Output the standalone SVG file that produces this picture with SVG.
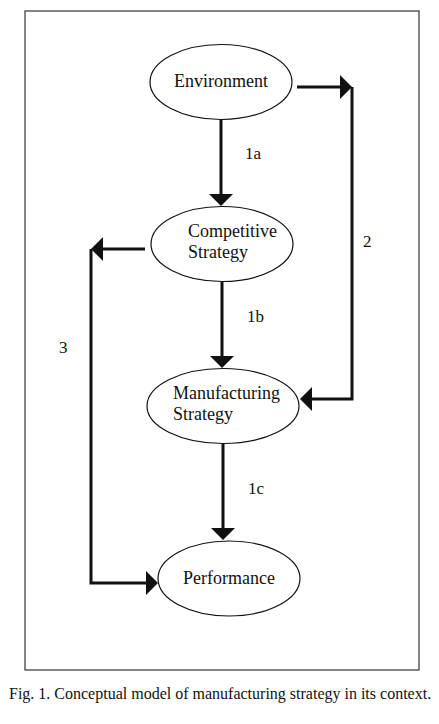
<svg xmlns="http://www.w3.org/2000/svg" width="439" height="724" viewBox="0 0 439 724">
<style>
.node ellipse{fill:#fff;stroke:#111;stroke-width:1.2}
.lbl{font-family:"Liberation Serif","Times New Roman",serif;font-size:18px;fill:#111}
.num{font-family:"Liberation Serif","Times New Roman",serif;font-size:17px;fill:#111}
.conn path{fill:none;stroke:#111;stroke-width:3}
.cap{font-family:"Liberation Serif","Times New Roman",serif;font-size:16px;fill:#111}
</style>
<defs>
<marker id="ah" viewBox="0 0 12 24" markerWidth="12" markerHeight="24" markerUnits="userSpaceOnUse" refX="2" refY="12" orient="auto">
<path d="M0,0 L12,12 L0,24 z" fill="#111"/>
</marker>
</defs>
<rect x="25" y="11" width="394" height="659" fill="none" stroke="#333" stroke-width="1.2"/>
<g class="conn" id="connectors">
<path d="M221,119 V196" marker-end="url(#ah)"/>
<path d="M222,282 V358" marker-end="url(#ah)"/>
<path d="M223,443 V530" marker-end="url(#ah)"/>
<path d="M297,87 H342" marker-end="url(#ah)"/>
<path d="M352,87 V399 H310" marker-end="url(#ah)"/>
<path d="M145,249 H101" marker-end="url(#ah)"/>
<path d="M91,249 V583 H148" stroke-width="2.5" marker-end="url(#ah)"/>
<text class="num" x="245" y="159">1a</text>
<text class="num" x="247" y="322">1b</text>
<text class="num" x="248" y="494">1c</text>
<text class="num" x="363" y="247">2</text>
<text class="num" x="59" y="353">3</text>
</g>
<g class="node" id="environment">
<ellipse cx="221" cy="82" rx="71" ry="37.5"/>
<text class="lbl" x="221" y="87" text-anchor="middle">Environment</text>
</g>
<g class="node" id="competitive-strategy">
<ellipse cx="222" cy="244" rx="71" ry="37.5"/>
<text class="lbl" x="188" y="237">Competitive</text>
<text class="lbl" x="188" y="258">Strategy</text>
</g>
<g class="node" id="manufacturing-strategy">
<ellipse cx="223" cy="406" rx="76" ry="37.5"/>
<text class="lbl" x="173" y="399">Manufacturing</text>
<text class="lbl" x="173" y="420">Strategy</text>
</g>
<g class="node" id="performance">
<ellipse cx="229" cy="578.5" rx="71" ry="37.5"/>
<text class="lbl" x="229" y="584" text-anchor="middle">Performance</text>
</g>
<text class="cap" x="9" y="699">Fig. 1. Conceptual model of manufacturing strategy in its context.</text>
</svg>
